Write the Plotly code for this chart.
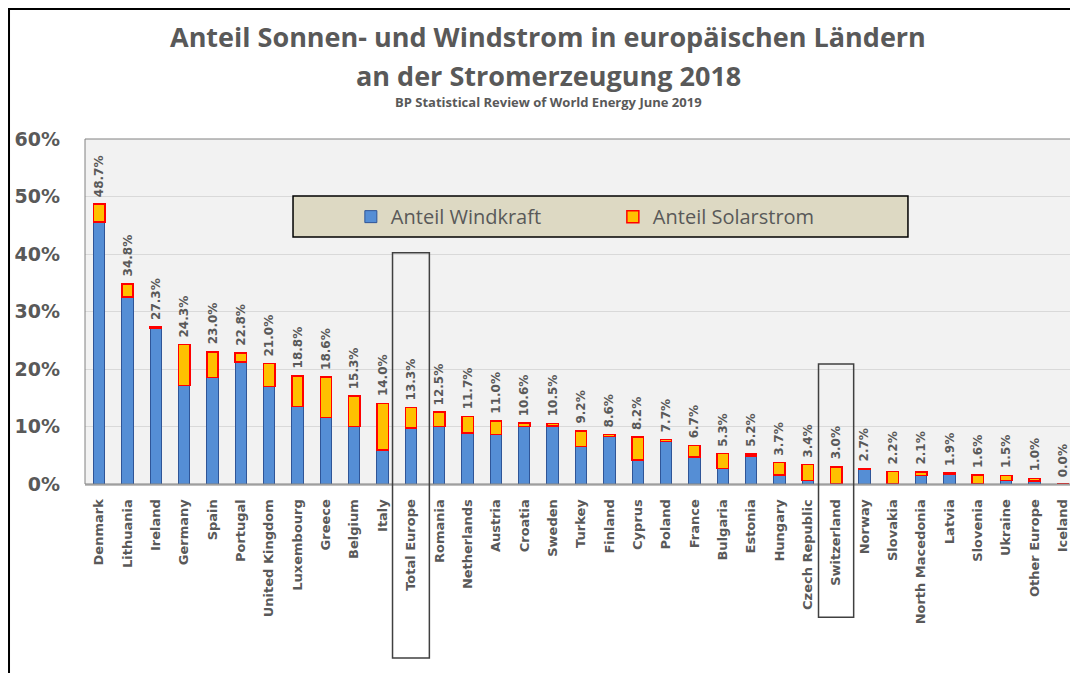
import plotly.graph_objects as go

countries = ["Denmark", "Lithuania", "Ireland", "Germany", "Spain", "Portugal",
             "United Kingdom", "Luxembourg", "Greece", "Belgium", "Italy",
             "Total Europe", "Romania", "Netherlands", "Austria", "Croatia",
             "Sweden", "Turkey", "Finland", "Cyprus", "Poland", "France",
             "Bulgaria", "Estonia", "Hungary", "Czech Republic", "Switzerland",
             "Norway", "Slovakia", "North Macedonia", "Latvia", "Slovenia",
             "Ukraine", "Other Europe", "Iceland"]
wind = [45.6, 32.5, 27.1, 17.1, 18.5, 21.2, 17.0, 13.5, 11.6, 10.0, 5.9,
        9.7, 10.0, 8.9, 8.6, 10.0, 10.1, 6.5, 8.3, 4.2, 7.4, 4.7,
        2.7, 4.9, 1.6, 0.6, 0.1, 2.6, 0.0, 1.5, 1.7, 0.0, 0.6, 0.5, 0.05]
solar = [3.1, 2.3, 0.2, 7.2, 4.5, 1.6, 4.0, 5.3, 7.0, 5.3, 8.1,
         3.6, 2.5, 2.8, 2.4, 0.6, 0.4, 2.7, 0.3, 4.0, 0.3, 2.0,
         2.6, 0.3, 2.1, 2.8, 2.9, 0.1, 2.2, 0.6, 0.2, 1.6, 0.9, 0.5, 0.0]
totals = [48.7, 34.8, 27.3, 24.3, 23.0, 22.8, 21.0, 18.8, 18.6, 15.3, 14.0,
          13.3, 12.5, 11.7, 11.0, 10.6, 10.5, 9.2, 8.6, 8.2, 7.7, 6.7,
          5.3, 5.2, 3.7, 3.4, 3.0, 2.7, 2.2, 2.1, 1.9, 1.6, 1.5, 1.0, 0.0]
y_ticks = [0, 10, 20, 30, 40, 50, 60]
y_tick_labels = ["0%", "10%", "20%", "30%", "40%", "50%", "60%"]
highlighted = ["Total Europe", "Switzerland"]

GRAY = "#595959"

fig = go.Figure()
fig.add_trace(go.Bar(x=countries, y=wind, name="Anteil Windkraft",
                     marker=dict(color="#558ED5", line=dict(color="#2F5597", width=1))))
fig.add_trace(go.Bar(x=countries, y=solar, name="Anteil Solarstrom",
                     marker=dict(color="#FFC000", line=dict(color="#FF0000", width=1.5))))

for c, t in zip(countries, totals):
    fig.add_annotation(x=c, y=t, text=f"{t:.1f}%", textangle=-90, showarrow=False,
                       xanchor="center", yanchor="bottom", yshift=5,
                       font=dict(family="DejaVu Sans", size=12, color=GRAY, weight="bold"))

# title lines
fig.add_annotation(xref="paper", yref="paper", x=0.467, y=1.2957, showarrow=False,
                   text="Anteil Sonnen- und Windstrom in europäischen Ländern",
                   xanchor="center", yanchor="middle",
                   font=dict(family="Open Sans", size=27, color=GRAY, weight="bold"))
fig.add_annotation(xref="paper", yref="paper", x=0.467, y=1.1855, showarrow=False,
                   text="an der Stromerzeugung 2018",
                   xanchor="center", yanchor="middle",
                   font=dict(family="Open Sans", size=27, color=GRAY, weight="bold"))
fig.add_annotation(xref="paper", yref="paper", x=0.467, y=1.107, showarrow=False,
                   text="BP Statistical Review of World Energy June 2019",
                   xanchor="center", yanchor="middle",
                   font=dict(family="Open Sans", size=13, color=GRAY, weight="bold"))

# outer frame of the picture
fig.add_shape(type="path", xref="paper", yref="paper",
              path="M -0.0766,-0.6 L -0.0766,1.3768 L 1.05,1.3768",
              line=dict(color="black", width=2))
# plot area border
fig.add_shape(type="rect", xref="paper", yref="paper", x0=0, x1=1, y0=0, y1=1,
              line=dict(color="#808080", width=1), layer="above")
# legend box
fig.add_shape(type="rect", xref="paper", yref="paper", x0=0.2097, x1=0.8296,
              y0=0.716, y1=0.835, fillcolor="#DDD9C3",
              line=dict(color="black", width=1.5), layer="above")
# highlight boxes
box_specs = {"Total Europe": (0.67, -0.504, 0.65), "Switzerland": (0.348, -0.386, 0.62)}
for name in highlighted:
    i = countries.index(name)
    top, bot, hw = box_specs[name]
    fig.add_shape(type="rect", xref="x", yref="paper", x0=i - hw, x1=i + hw,
                  y0=bot, y1=top, line=dict(color="#404040", width=1.5), layer="above")

fig.update_layout(
    width=1070, height=665,
    barmode="stack", bargap=0.6,
    paper_bgcolor="white", plot_bgcolor="#F2F2F2",
    margin=dict(l=77, r=1, t=131, b=189),
    legend=dict(orientation="h", x=0.268, xanchor="left", y=0.775, yanchor="middle",
                bgcolor="rgba(0,0,0,0)", entrywidth=217, traceorder="normal",
                font=dict(family="Open Sans", size=20, color=GRAY)),
    xaxis=dict(tickangle=-90, showgrid=False, ticks="", ticklabelstandoff=8,
               tickfont=dict(family="DejaVu Sans", size=13, color=GRAY, weight="bold"),
               range=[-0.5, len(countries) - 0.5], showline=True, linecolor="#BFBFBF", linewidth=2),
    yaxis=dict(range=[0, 60], tickvals=y_ticks, ticktext=y_tick_labels, showgrid=True,
               gridcolor="#D9D9D9", gridwidth=1, zeroline=False, ticks="",
               ticklabelstandoff=24,
               tickfont=dict(family="DejaVu Sans", size=19, color=GRAY, weight="bold")),
    showlegend=True,
)

fig.write_html("out.html")
